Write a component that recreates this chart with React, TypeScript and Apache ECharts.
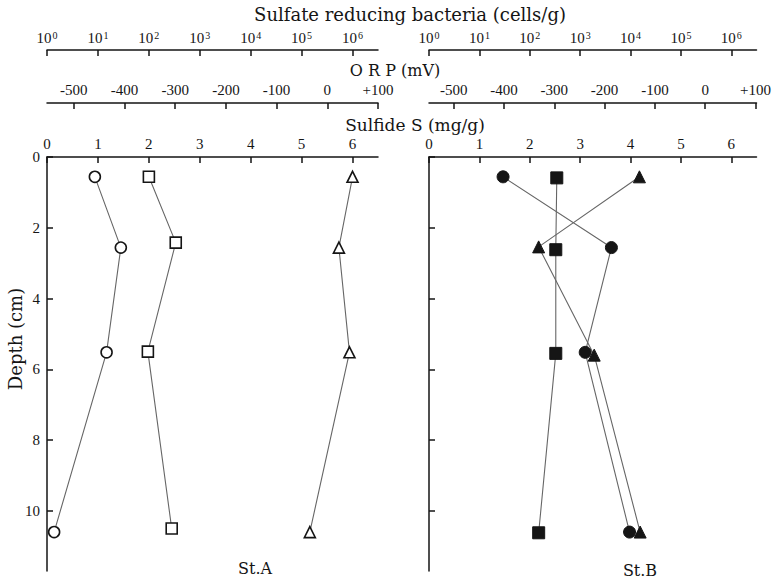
import React, { useEffect, useRef } from 'react';
import * as echarts from 'echarts';

// ---- tick labels ----
const depthTicks = [0, 2, 4, 6, 8, 10];
const sulfideTicks = [0, 1, 2, 3, 4, 5, 6];
const orpTicks = [-500, -400, -300, -200, -100, 0, 100];
const srbTicks = [1, 10, 100, 1000, 10000, 100000, 1000000];
const srbExponents = ['0', '1', '2', '3', '4', '5', '6'];

// ---- St.A (open symbols) ----
const sulfideA = [0.94, 1.45, 1.17, 0.14]; // mg/g  (circles)
const sulfideDepthA = [0.56, 2.56, 5.52, 10.6];
const orpA = [-352, -299, -354, -307]; // mV (squares)
const orpDepthA = [0.56, 2.42, 5.5, 10.5];
const srbA = [1.0e6, 5.4e5, 8.7e5, 1.45e5]; // cells/g (triangles)
const srbDepthA = [0.56, 2.56, 5.52, 10.6];

// ---- St.B (filled symbols) ----
const sulfideB = [1.47, 3.62, 3.1, 3.98];
const sulfideDepthB = [0.56, 2.56, 5.52, 10.6];
const orpB = [-295, -297, -297, -331];
const orpDepthB = [0.59, 2.62, 5.55, 10.62];
const srbB = [1.5e4, 1.5e2, 1.9e3, 1.55e4];
const srbDepthB = [0.56, 2.54, 5.6, 10.6];

const SERIF = '"Liberation Serif", "Times New Roman", serif';
const TITLE_FONT = '"DejaVu Serif", serif';
const INK = '#151515';

function pairs(xs: number[], ds: number[]) {
  return xs.map((x, i) => [x, ds[i]]);
}

export default function App() {
  const ref = useRef<HTMLDivElement>(null);

  useEffect(() => {
    if (!ref.current) return;
    const chart = echarts.init(ref.current, undefined, { renderer: 'svg' });

    const axisLine = { show: true, lineStyle: { color: INK, width: 1.5 } };
    const labelBase = { fontFamily: SERIF, fontSize: 15, color: INK, margin: 6 };

    const makeXAxes = (grid: number, orpMin: number, orpMax: number) => [
      {
        gridIndex: grid, type: 'value', position: 'top', min: 0, max: 6.5,
        axisLine, splitLine: { show: false },
        axisTick: { show: true, inside: true, length: 6, customValues: sulfideTicks, lineStyle: { color: INK, width: 1.5 } },
        axisLabel: { ...labelBase, customValues: sulfideTicks },
      },
      {
        gridIndex: grid, type: 'value', position: 'top', offset: 54, min: orpMin, max: orpMax,
        axisLine, splitLine: { show: false },
        axisTick: { show: true, inside: true, length: 6, customValues: orpTicks, lineStyle: { color: INK, width: 1.5 } },
        axisLabel: {
          ...labelBase, customValues: orpTicks,
          formatter: (v: number) => (v > 0 ? '+' + v : String(v)),
        },
      },
      {
        gridIndex: grid, type: 'log', logBase: 10, position: 'top', offset: 107, min: 1, max: 3162278,
        axisLine, splitLine: { show: false },
        axisTick: { show: true, inside: true, length: 6, customValues: srbTicks, lineStyle: { color: INK, width: 1.5 } },
        axisLabel: {
          ...labelBase, margin: 5, customValues: srbTicks,
          formatter: (v: number) => {
            const i = srbTicks.indexOf(v);
            return '{b|10}{s|' + (i >= 0 ? srbExponents[i] : '') + '}';
          },
          rich: {
            b: { fontFamily: SERIF, fontSize: 15, color: INK },
            s: { fontFamily: SERIF, fontSize: 10, color: INK, verticalAlign: 'top', padding: [0, 0, 0, 1] },
          },
        },
      },
    ];

    const makeYAxis = (grid: number, showLabels: boolean) => ({
      gridIndex: grid, type: 'value', inverse: true, min: 0, max: 11.7,
      axisLine, splitLine: { show: false },
      axisTick: { show: true, inside: true, length: 6, customValues: depthTicks, lineStyle: { color: INK, width: 1.5 } },
      axisLabel: { show: showLabels, ...labelBase, margin: 7, customValues: depthTicks },
    });

    const lineStyle = { color: '#666', width: 1.1 };
    const mk = (name: string, xIdx: number, yIdx: number, data: number[][], symbol: string, filled: boolean, size: number) => ({
      type: 'line', name, xAxisIndex: xIdx, yAxisIndex: yIdx, data, symbol, symbolSize: size,
      showAllSymbol: true, lineStyle, z: 3,
      itemStyle: filled
        ? { color: INK, borderColor: INK, borderWidth: 1 }
        : { color: '#fff', borderColor: INK, borderWidth: 1.6 },
      emphasis: { disabled: true },
    });

    const textStyle = (text: string, size: number) => ({
      text, font: size + 'px ' + TITLE_FONT, fill: INK,
      align: 'center', verticalAlign: 'middle', textAlign: 'center', textVerticalAlign: 'middle',
    });

    const option = {
      animation: false,
      backgroundColor: '#fff',
      grid: [
        { left: 47, top: 157, width: 331, height: 414 },
        { left: 429, top: 157, width: 334, height: 414 },
      ],
      xAxis: [...makeXAxes(0, -553, 100), ...makeXAxes(1, -549, 102)],
      yAxis: [makeYAxis(0, true), makeYAxis(1, false)],
      series: [
        mk('Sulfide A', 0, 0, pairs(sulfideA, sulfideDepthA), 'circle', false, 11),
        mk('ORP A', 1, 0, pairs(orpA, orpDepthA), 'rect', false, 11),
        mk('SRB A', 2, 0, pairs(srbA, srbDepthA), 'triangle', false, 11),
        mk('Sulfide B', 3, 1, pairs(sulfideB, sulfideDepthB), 'circle', true, 12),
        mk('ORP B', 4, 1, pairs(orpB, orpDepthB), 'rect', true, 12),
        mk('SRB B', 5, 1, pairs(srbB, srbDepthB), 'triangle', true, 12),
      ],
      graphic: [
        { type: 'text', x: 410, y: 14, style: textStyle('Sulfate reducing bacteria (cells/g)', 18) },
        { type: 'text', x: 395, y: 70, style: textStyle('O R P (mV)', 16) },
        { type: 'text', x: 415, y: 125, style: textStyle('Sulfide S (mg/g)', 17) },
        { type: 'text', x: 15, y: 339, rotation: Math.PI / 2, style: textStyle('Depth (cm)', 18) },
        { type: 'text', x: 255, y: 568, style: textStyle('St.A', 16) },
        { type: 'text', x: 640, y: 570, style: textStyle('St.B', 16) },
      ],
    };

    chart.setOption(option as any);
    return () => chart.dispose();
  }, []);

  return (
    <div
      ref={ref}
      style={{ position: 'fixed', left: 0, top: 0, width: 774, height: 581, background: '#fff' }}
    />
  );
}
